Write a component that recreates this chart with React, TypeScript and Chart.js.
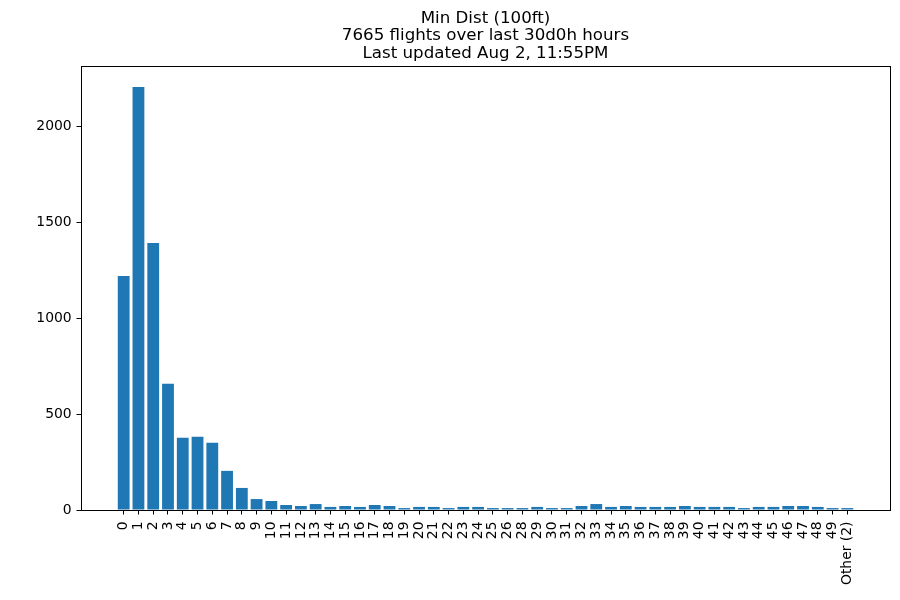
import React, { useEffect, useRef } from 'react';
import { Chart, registerables } from 'chart.js';

Chart.register(...registerables);

// Bin labels (note: 27 is absent in the source chart)
const binLabels = [
  '0', '1', '2', '3', '4', '5', '6', '7', '8', '9',
  '10', '11', '12', '13', '14', '15', '16', '17', '18', '19',
  '20', '21', '22', '23', '24', '25', '26', '28', '29', '30',
  '31', '32', '33', '34', '35', '36', '37', '38', '39', '40',
  '41', '42', '43', '44', '45', '46', '47', '48', '49', 'Other (2)',
];

// Flight counts per bin
const flightCounts = [
  1220, 2205, 1392, 658, 377, 382, 350, 204, 115, 57,
  47, 26, 21, 31, 16, 21, 16, 26, 21, 10,
  16, 16, 10, 16, 16, 10, 10, 10, 16, 10,
  10, 21, 31, 16, 21, 16, 16, 16, 21, 16,
  16, 16, 10, 16, 16, 21, 21, 16, 10, 10,
];

const titleLines = [
  'Min Dist (100ft)',
  '7665 flights over last 30d0h hours',
  'Last updated Aug 2, 11:55PM',
];

const yTicks = [0, 500, 1000, 1500, 2000];

const FONT = '"DejaVu Sans", sans-serif';

// matplotlib-style frame + centred multi-line title
const framePlugin = {
  id: 'mplFrame',
  afterDraw(chart: Chart) {
    const { ctx, chartArea } = chart;
    ctx.save();
    ctx.strokeStyle = '#000';
    ctx.lineWidth = 1;
    ctx.strokeRect(
      Math.round(chartArea.left) + 0.5,
      Math.round(chartArea.top) + 0.5,
      Math.round(chartArea.right - chartArea.left),
      Math.round(chartArea.bottom - chartArea.top)
    );
    ctx.fillStyle = '#000';
    ctx.font = `16.67px ${FONT}`;
    ctx.textAlign = 'center';
    ctx.textBaseline = 'alphabetic';
    const cx = (chartArea.left + chartArea.right) / 2;
    titleLines.forEach((line, i) => {
      ctx.fillText(line, cx, 22.5 + i * 17.7);
    });
    ctx.restore();
  },
};

const App: React.FC = () => {
  const canvasRef = useRef<HTMLCanvasElement>(null);
  const chartRef = useRef<Chart | null>(null);

  useEffect(() => {
    document.body.style.margin = '0';
    if (!canvasRef.current) return;
    const ctx = canvasRef.current.getContext('2d');
    if (!ctx) return;

    const n = flightCounts.length;
    const pad = (n - 1 + 0.8) * 0.05;

    chartRef.current = new Chart(ctx, {
      type: 'bar',
      data: {
        datasets: [
          {
            data: flightCounts.map((v, i) => ({ x: i, y: v })),
            backgroundColor: '#1f77b4',
            borderWidth: 0,
            barPercentage: 0.8,
            categoryPercentage: 1,
          },
        ],
      },
      options: {
        animation: false,
        responsive: false,
        devicePixelRatio: 1,
        layout: { padding: { top: 66, left: 0, right: 10, bottom: 0 } },
        plugins: {
          legend: { display: false },
          title: { display: false },
          tooltip: { enabled: false },
        },
        scales: {
          x: {
            type: 'linear',
            offset: false,
            min: -0.4 - pad,
            max: n - 1 + 0.4 + pad,
            border: { display: false },
            grid: {
              display: true,
              offset: false,
              drawOnChartArea: false,
              drawTicks: true,
              tickLength: 4.5,
              tickColor: '#000',
              tickWidth: 1,
            },
            afterBuildTicks: (scale: any) => {
              scale.ticks = binLabels.map((_, i) => ({ value: i }));
            },
            afterFit: (scale: any) => {
              scale.height = 90;
            },
            ticks: {
              autoSkip: false,
              minRotation: 90,
              maxRotation: 90,
              padding: 7,
              color: '#000',
              font: { family: FONT, size: 13.9 },
              callback: (v: any) => binLabels[Number(v)] ?? '',
            },
          },
          y: {
            min: 0,
            max: 2315,
            border: { display: false },
            grid: {
              display: true,
              drawOnChartArea: false,
              drawTicks: true,
              tickLength: 4.5,
              tickColor: '#000',
              tickWidth: 1,
            },
            afterBuildTicks: (scale: any) => {
              scale.ticks = yTicks.map(v => ({ value: v }));
            },
            afterFit: (scale: any) => {
              scale.width = 81;
            },
            ticks: {
              padding: 4.8,
              color: '#000',
              font: { family: FONT, size: 13.9 },
              callback: (v: any) => String(v),
            },
          },
        },
      },
      plugins: [framePlugin],
    } as any);

    return () => {
      chartRef.current?.destroy();
    };
  }, []);

  return (
    <div style={{ width: 900, height: 600, background: '#fff' }}>
      <canvas ref={canvasRef} width={900} height={600} style={{ width: 900, height: 600 }} />
    </div>
  );
};

export default App;
